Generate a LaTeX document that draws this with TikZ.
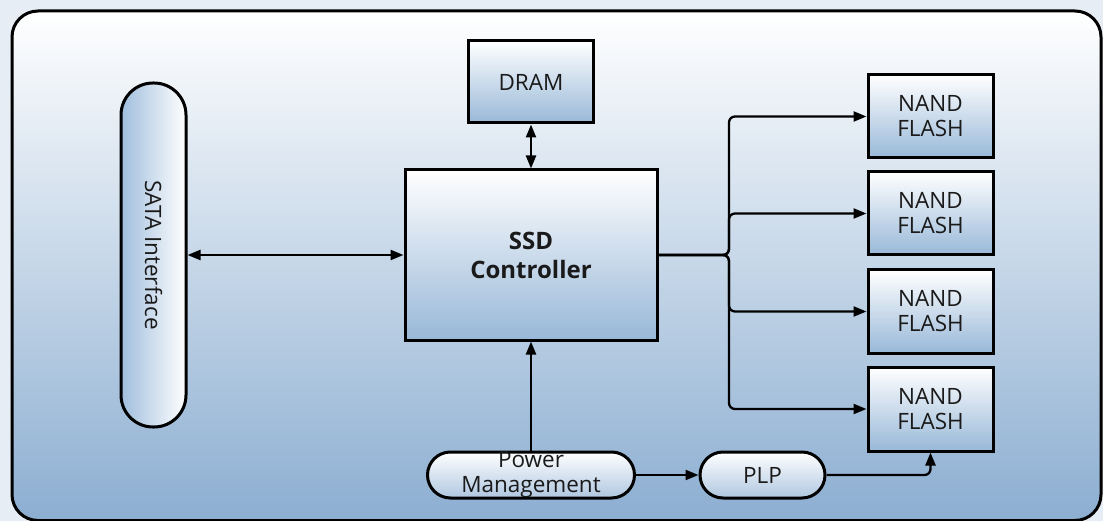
\documentclass[tikz,border=0pt]{standalone}
\usepackage{fontspec}
\setmainfont{Open Sans}
\usetikzlibrary{arrows.meta}
\definecolor{marg}{HTML}{E6EDF4}
\definecolor{bgbot}{HTML}{8CAED1}
\definecolor{boxbot}{HTML}{98B8D8}
\definecolor{pillbot}{HTML}{AFC7E0}
\definecolor{satal}{HTML}{A0BEDD}
\definecolor{txt}{HTML}{1A1A1A}
\tikzset{
  boxn/.style={draw=black, line width=3pt, rectangle, top color=white, bottom color=boxbot,
    inner sep=0pt, align=center, text=txt, font=\fontsize{22.5}{25}\selectfont},
  pilln/.style={draw=black, line width=3pt, rectangle, rounded corners=23pt, top color=white, bottom color=pillbot,
    inner sep=0pt, minimum height=46pt, align=center, text=txt, font=\fontsize{22.5}{25}\selectfont},
  labn/.style={inner sep=0pt, align=center, text=txt, font=\fontsize{22.5}{25}\selectfont},
  conn/.style={line width=2.3pt, draw=black},
  arr/.style={conn, -{Triangle[length=13pt,width=10pt]}},
  dbl/.style={conn, {Triangle[length=13pt,width=10pt]}-{Triangle[length=13pt,width=10pt]}},
}
\begin{document}
\begin{tikzpicture}[x=1pt,y=-1pt]
\useasboundingbox (0,0) rectangle (1103,521);
\fill[marg] (0,0) rectangle (1103,521);
\draw[line width=3pt, top color=white, bottom color=bgbot, rounded corners=26pt] (12,11) rectangle (1101,520.5);

% nodes
\node[draw=black, line width=3pt, rectangle, rounded corners=32pt, left color=satal, right color=white,
  minimum width=65pt, minimum height=344pt, inner sep=0pt, text=txt, font=\fontsize{22.5}{25}\selectfont]
  (sata) at (153.5,255) {\rotatebox{-90}{SATA Interface}};
\node[boxn, minimum width=125pt, minimum height=82pt] (dram) at (531,82) {DRAM};
\node[boxn, minimum width=252pt, minimum height=170pt, font=\fontsize{24}{29}\selectfont\bfseries] (ctrl) at (531,255) {SSD\\Controller};
\node[boxn, minimum width=125pt, minimum height=83pt] (nand1) at (930.5,116.5) {NAND\\FLASH};
\node[boxn, minimum width=125pt, minimum height=83pt] (nand2) at (930.5,213.5) {NAND\\FLASH};
\node[boxn, minimum width=125pt, minimum height=83pt] (nand3) at (930.5,311.5) {NAND\\FLASH};
\node[boxn, minimum width=125pt, minimum height=84pt] (nand4) at (930.5,409) {NAND\\FLASH};
\node[pilln, minimum width=207pt] (pm) at (531,475) {};
\node[labn] (pmtext) at (pm.center) {Power\\Management};
\node[pilln, minimum width=125pt] (plp) at (762.5,475) {PLP};

% connectors
\draw[dbl] (sata) -- (ctrl);
\draw[dbl] (dram) -- (ctrl);
\draw[arr] (pm) -- (ctrl);
\draw[arr] (pm) -- (plp);
\draw[arr, rounded corners=6pt] (plp.east) -| (nand4.south);
\coordinate (bj) at (729,255);
\draw[arr, rounded corners=6pt] (ctrl.east) -- (bj) |- (nand1.west);
\draw[arr, rounded corners=6pt] (ctrl.east) -- (bj) |- (nand2.west);
\draw[arr, rounded corners=6pt] (ctrl.east) -- (bj) |- (nand3.west);
\draw[arr, rounded corners=6pt] (ctrl.east) -- (bj) |- (nand4.west);
\end{tikzpicture}
\end{document}
